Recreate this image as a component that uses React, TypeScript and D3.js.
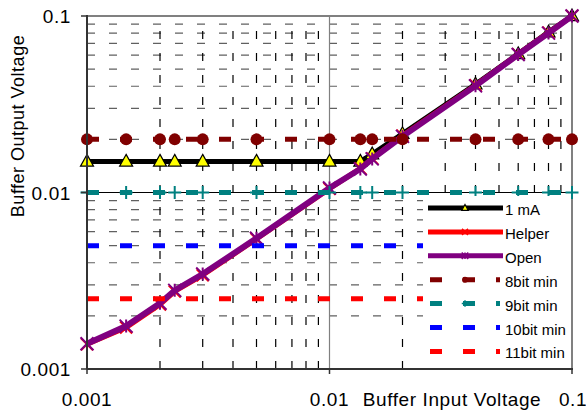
import React from 'react';
import * as d3 from 'd3';

// values (log-log, volts)
const inputV = [0.001, 0.00145, 0.002, 0.0023, 0.003, 0.005, 0.01, 0.0134, 0.015, 0.02, 0.04, 0.06, 0.08, 0.1];
const oneMA = [0.015, 0.015, 0.015, 0.015, 0.015, 0.015, 0.015, 0.015, 0.0165, 0.0215, 0.041, 0.061, 0.081, 0.1];
const helper = [0.00138, 0.00172, 0.00232, 0.00275, 0.0034, 0.00545, 0.0105, 0.0137, 0.0156, 0.021, 0.0405, 0.0608, 0.0805, 0.1];
const openV = [0.00139, 0.00175, 0.00236, 0.00279, 0.00345, 0.0055, 0.0106, 0.0136, 0.0155, 0.0208, 0.0402, 0.0605, 0.08, 0.1];
const bit8 = inputV.map(() => 0.02);
const bit9 = inputV.map(() => 0.01);
const bit10 = [0.005, 0.005];
const bit11 = [0.0025, 0.0025];
const bitX = [0.001, 0.1];

const majorTicks = [0.001, 0.01, 0.1];
const tickLabels = ['0.001', '0.01', '0.1'];
const minorTicks = [2, 3, 4, 5, 6, 7, 8, 9].flatMap(m => [m * 0.001, m * 0.01]);

const legendNames = ['1 mA', 'Helper', 'Open', '8bit min', '9bit min', '10bit min', '11bit min'];

const W = 586, H = 412;
const m = { left: 87, right: 572, top: 16, bottom: 369 };
const FONT = '"Liberation Sans", Arial, sans-serif';

type Marker = 'tri' | 'x' | 'star' | 'circle' | 'plus' | 'none';

const drawMarker = (kind: Marker, cx: number, cy: number, s: number, color: string, key: string, sw = 2) => {
  if (kind === 'tri') {
    const h = s * 0.9;
    return <path key={key} d={`M${cx},${cy - h * 0.6}L${cx + s / 2},${cy + h * 0.4}L${cx - s / 2},${cy + h * 0.4}Z`} fill="#ffff00" stroke="#000" strokeWidth={1.2} />;
  }
  if (kind === 'x') {
    const r = s / 2;
    return <path key={key} d={`M${cx - r},${cy - r}L${cx + r},${cy + r}M${cx - r},${cy + r}L${cx + r},${cy - r}`} stroke={color} strokeWidth={sw} />;
  }
  if (kind === 'star') {
    const r = s / 2;
    return <path key={key} d={`M${cx - r},${cy - r}L${cx + r},${cy + r}M${cx - r},${cy + r}L${cx + r},${cy - r}M${cx},${cy - r}L${cx},${cy + r}`} stroke={color} strokeWidth={sw} />;
  }
  if (kind === 'circle') {
    return <circle key={key} cx={cx} cy={cy} r={s / 2} fill={color} />;
  }
  if (kind === 'plus') {
    const r = s / 2;
    return <path key={key} d={`M${cx - r},${cy}L${cx + r},${cy}M${cx},${cy - r}L${cx},${cy + r}`} stroke={color} strokeWidth={sw} />;
  }
  return null;
};

const App: React.FC = () => {
  const x = d3.scaleLog().domain([0.001, 0.1]).range([m.left, m.right]);
  const y = d3.scaleLog().domain([0.001, 0.1]).range([m.bottom, m.top]);

  const line = (xs: number[], ys: number[]) =>
    d3.line<number>().x((_, i) => x(xs[i])).y(d => y(d))(ys) || '';

  const series: { name: string; xs: number[]; ys: number[]; color: string; dash?: string; marker: Marker; size: number; lw: number }[] = [
    { name: legendNames[0], xs: inputV, ys: oneMA, color: '#000000', marker: 'tri', size: 13, lw: 5 },
    { name: legendNames[1], xs: inputV, ys: helper, color: '#ff0000', marker: 'x', size: 12, lw: 5 },
    { name: legendNames[2], xs: inputV, ys: openV, color: '#800080', marker: 'star', size: 13, lw: 6 },
    { name: legendNames[3], xs: inputV, ys: bit8, color: '#800000', dash: '12,21', marker: 'circle', size: 12, lw: 5 },
    { name: legendNames[4], xs: inputV, ys: bit9, color: '#008080', dash: '12,21', marker: 'plus', size: 13, lw: 5 },
    { name: legendNames[5], xs: bitX, ys: bit10, color: '#0000ff', dash: '12,21', marker: 'none', size: 0, lw: 5 },
    { name: legendNames[6], xs: bitX, ys: bit11, color: '#ff0000', dash: '12,21', marker: 'none', size: 0, lw: 5 },
  ];

  const legend = { x: 423, y: 196, w: m.right - 423, h: m.bottom - 196 };
  const rowY = (i: number) => 208 + i * 23.9;

  return (
    <svg width={W} height={H} style={{ position: 'absolute', left: 0, top: 0, background: '#fff' }} fontFamily={FONT}>
      <rect width={W} height={H} fill="#fff" />
      {/* minor grid */}
      {minorTicks.map(v => (
        <line key={'h' + v} x1={m.left} x2={m.right} y1={y(v)} y2={y(v)} stroke="#606060" strokeWidth={1.2} strokeDasharray="8,14" />
      ))}
      {minorTicks.map(v => (
        <line key={'v' + v} x1={x(v)} x2={x(v)} y1={m.bottom} y2={m.top} stroke="#000" strokeWidth={1.2} strokeDasharray="8,14" />
      ))}
      {/* major grid */}
      <line x1={x(0.01)} x2={x(0.01)} y1={m.top} y2={m.bottom} stroke="#808080" strokeWidth={1.2} />
      <line x1={m.left} x2={m.right} y1={y(0.01)} y2={y(0.01)} stroke="#000" strokeWidth={1.2} />
      {/* frame */}
      <line x1={m.left} x2={m.right} y1={m.top} y2={m.top} stroke="#808080" strokeWidth={2} />
      <line x1={m.right} x2={m.right} y1={m.top} y2={m.bottom} stroke="#808080" strokeWidth={2} />

      {/* series */}
      {series.map(s => (
        <g key={s.name}>
          <path d={line(s.xs, s.ys)} fill="none" stroke={s.color} strokeWidth={s.lw} strokeDasharray={s.dash} />
          {s.marker !== 'none' && s.xs.map((v, i) => drawMarker(s.marker, x(v), y(s.ys[i]), s.size, s.color, s.name + i))}
        </g>
      ))}

      {/* axes */}
      <line x1={m.left} x2={m.left} y1={m.top - 1} y2={m.bottom} stroke="#333" strokeWidth={2} />
      <line x1={m.left} x2={m.right + 1} y1={m.bottom} y2={m.bottom} stroke="#333" strokeWidth={2} />
      {majorTicks.map((v, i) => (
        <g key={'t' + v}>
          <line x1={m.left - 6} x2={m.left} y1={y(v)} y2={y(v)} stroke="#333" strokeWidth={1.5} />
          <line x1={x(v)} x2={x(v)} y1={m.bottom} y2={m.bottom + 5} stroke="#333" strokeWidth={1.5} />
          <text x={71} y={y(v) + 7} textAnchor="end" fontSize={19} letterSpacing={0.6} fill="#000">{tickLabels[i]}</text>
          <text x={x(v) + (i === 2 ? 1 : 0)} y={406} textAnchor="middle" fontSize={19} letterSpacing={0.6} fill="#000">{tickLabels[i]}</text>
        </g>
      ))}
      <text x={452} y={406} textAnchor="middle" fontSize={19} letterSpacing={0.6} fill="#000">Buffer Input Voltage</text>
      <text transform="translate(24,126) rotate(-90)" textAnchor="middle" fontSize={18} letterSpacing={0.5} fill="#000">Buffer Output Voltage</text>

      {/* legend */}
      <rect x={legend.x} y={legend.y} width={legend.w - 1} height={legend.h - 1} fill="#fff" />
      {series.map((s, i) => (
        <g key={'l' + s.name}>
          {s.dash
            ? <line x1={430} x2={500} y1={rowY(i)} y2={rowY(i)} stroke={s.color} strokeWidth={5} strokeDasharray={s.dash} />
            : <line x1={428} x2={503} y1={rowY(i)} y2={rowY(i)} stroke={s.color} strokeWidth={5} />}
          {s.marker !== 'none' && drawMarker(s.marker, 465, rowY(i), s.size * 0.5, s.color, 'lm' + i, 1.5)}
          <text x={505} y={rowY(i) + 7} fontSize={15} fill="#000">{s.name}</text>
        </g>
      ))}
    </svg>
  );
};

export default App;
